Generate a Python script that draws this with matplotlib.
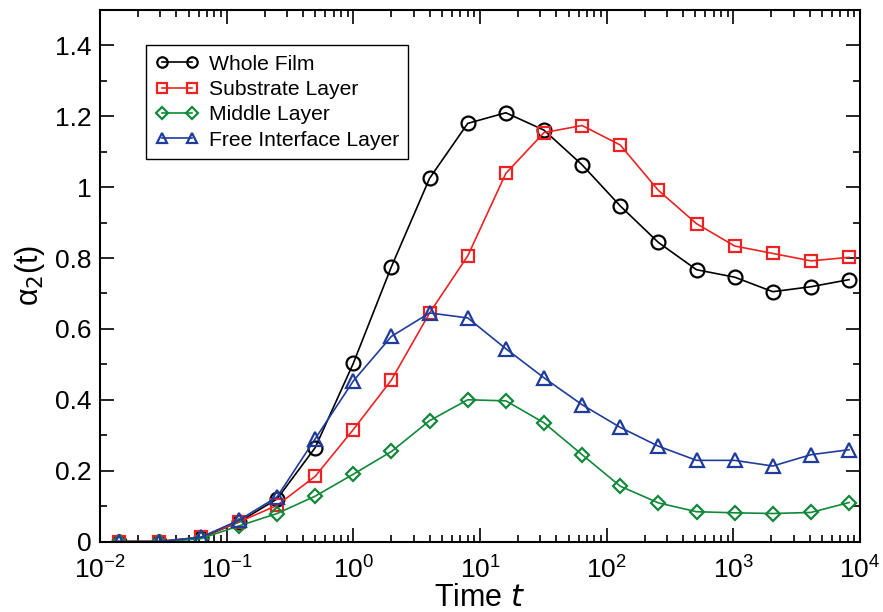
import matplotlib
matplotlib.use("Agg")
import matplotlib.pyplot as plt
from matplotlib.ticker import LogLocator, MultipleLocator, NullFormatter

plt.rcParams['font.family'] = ['Liberation Sans', 'DejaVu Sans']

times = [0.014, 0.029, 0.0625, 0.125, 0.25, 0.5, 1, 2, 4, 8, 16, 32, 64,
         128, 256, 512, 1024, 2048, 4096, 8192]

whole_film = [0.0, 0.0, 0.01, 0.055, 0.12, 0.265, 0.503, 0.776, 1.025, 1.18,
              1.21, 1.161, 1.063, 0.947, 0.844, 0.767, 0.746, 0.705, 0.719, 0.739]
substrate = [0.0, 0.0, 0.012, 0.055, 0.102, 0.184, 0.316, 0.456, 0.645, 0.806,
             1.039, 1.154, 1.174, 1.119, 0.991, 0.897, 0.834, 0.813, 0.792, 0.802]
middle = [-0.002, -0.002, 0.008, 0.044, 0.079, 0.128, 0.19, 0.254, 0.341, 0.40,
          0.397, 0.335, 0.245, 0.156, 0.109, 0.084, 0.081, 0.079, 0.082, 0.110]
free_iface = [0.0, 0.0, 0.012, 0.06, 0.126, 0.29, 0.453, 0.579, 0.645, 0.631,
              0.544, 0.462, 0.386, 0.322, 0.269, 0.229, 0.229, 0.213, 0.245, 0.259]

labels = ["Whole Film", "Substrate Layer", "Middle Layer", "Free Interface Layer"]
colors = ["#000000", "#ee2222", "#11883a", "#1f3c9c"]
markers = ["o", "s", "D", "^"]
msizes = [10, 9, 7.5, 10]
leg_msizes = [7.5, 7, 6, 7.5]

fig = plt.figure(figsize=(8.83, 6.12), dpi=100)
ax = fig.add_axes([100/883, 1-541.5/612, 760/883, 531.5/612])

for y, lab, c, m, ms in zip([whole_film, substrate, middle, free_iface], labels, colors, markers, msizes):
    ax.plot(times, y, color=c, marker=m, ms=ms, mfc='none', mec=c, mew=1.6,
            lw=1.2, label=lab)

ax.set_xscale('log')
ax.set_xlim(1e-2, 1e4)
ax.set_ylim(0, 1.5)
ax.set_yticks([0, 0.2, 0.4, 0.6, 0.8, 1.0, 1.2, 1.4])
ax.set_yticklabels(["0", "0.2", "0.4", "0.6", "0.8", "1", "1.2", "1.4"])
ax.yaxis.set_minor_locator(MultipleLocator(0.1))
ax.xaxis.set_major_locator(LogLocator(base=10, numticks=10))
ax.xaxis.set_minor_locator(LogLocator(base=10, subs=range(2, 10), numticks=100))
ax.xaxis.set_minor_formatter(NullFormatter())

ax.tick_params(which='both', direction='in', top=True, right=True, width=1.2)
ax.tick_params(which='major', length=10, labelsize=19, pad=6)
ax.tick_params(axis='x', which='major', pad=11)
ax.tick_params(which='minor', length=5)
for s in ax.spines.values():
    s.set_linewidth(1.5)

ax.set_xlabel(r"Time $t$", fontsize=22, labelpad=-1)
ax.set_ylabel("α$_2$(t)", fontsize=22, labelpad=6)

leg = ax.legend(loc='upper left', bbox_to_anchor=(0.061, 0.934), numpoints=2,
                fontsize=15.2, frameon=True, fancybox=False, framealpha=1,
                edgecolor='black', handlelength=2.0, borderpad=0.45,
                labelspacing=0.3, handletextpad=0.5, borderaxespad=0)
leg.get_frame().set_linewidth(1.0)
for h, lms in zip(leg.legend_handles, leg_msizes):
    h.set_markersize(lms)

fig.savefig("out.png", dpi=100)
